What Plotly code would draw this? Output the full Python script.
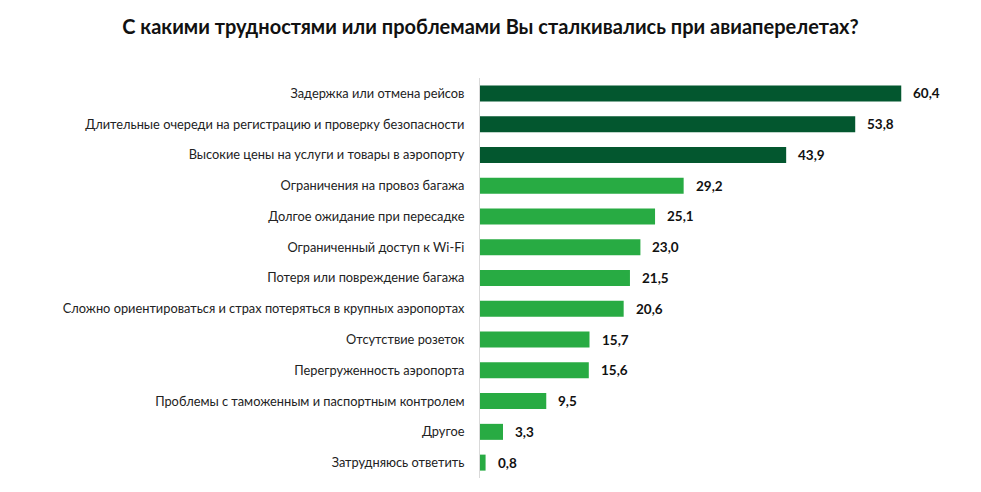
import plotly.graph_objects as go

categories = [
    "Задержка или отмена рейсов",
    "Длительные очереди на регистрацию и проверку безопасности",
    "Высокие цены на услуги и товары в аэропорту",
    "Ограничения на провоз багажа",
    "Долгое ожидание при пересадке",
    "Ограниченный доступ к Wi-Fi",
    "Потеря или повреждение багажа",
    "Сложно ориентироваться и страх потеряться в крупных аэропортах",
    "Отсутствие розеток",
    "Перегруженность аэропорта",
    "Проблемы с таможенным и паспортным контролем",
    "Другое",
    "Затрудняюсь ответить",
]
values = [60.4, 53.8, 43.9, 29.2, 25.1, 23.0, 21.5, 20.6, 15.7, 15.6, 9.5, 3.3, 0.8]
labels = ["60,4", "53,8", "43,9", "29,2", "25,1", "23,0", "21,5", "20,6", "15,7", "15,6", "9,5", "3,3", "0,8"]

DARK = "#03572f"
LIGHT = "#28ab43"
colors = [DARK if i < 3 else LIGHT for i in range(len(values))]

FONT = "Lato, 'Open Sans', sans-serif"

fig = go.Figure()
fig.add_trace(go.Bar(
    y=categories, x=values, orientation="h",
    marker=dict(color=colors, line=dict(width=0)),
    hoverinfo="skip",
))

for c, v, t in zip(categories, values, labels):
    fig.add_annotation(x=v, y=c, text="<b>" + t + "</b>", showarrow=False,
                       xanchor="left", xshift=10, font=dict(size=13.5, color="#111", family=FONT))

fig.update_layout(
    width=981, height=492,
    margin=dict(l=480, r=40, t=78, b=14),
    paper_bgcolor="white", plot_bgcolor="white",
    title=dict(text="<b>С какими трудностями или проблемами Вы сталкивались при авиаперелетах?</b>",
               x=0.5, xanchor="center", y=0.945, yanchor="middle",
               font=dict(size=20, color="#111", family=FONT)),
    bargap=0.48,
    showlegend=False,
)
fig.update_xaxes(range=[0, 66.1], visible=False)
fig.update_yaxes(autorange="reversed", showline=True, linecolor="#d9d9d9", linewidth=1,
                 ticks="", showgrid=False, ticklabelstandoff=12, automargin=False,
                 tickfont=dict(size=12.8, color="#222", family=FONT))

fig.write_html("out.html", config={"displayModeBar": False},
               post_script="document.body.style.margin='0';")
